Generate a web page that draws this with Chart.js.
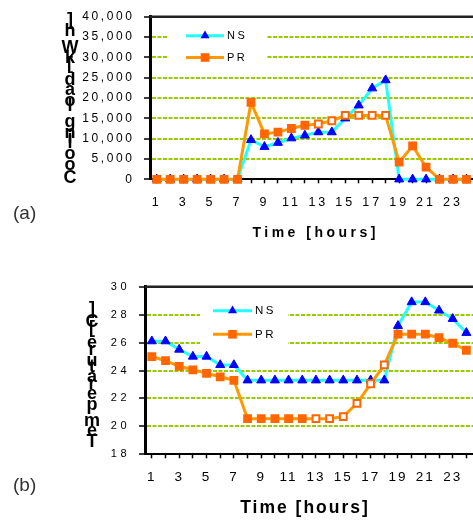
<!DOCTYPE html>
<html lang="en">
<head>
<meta charset="UTF-8">
<title>Cooling load and temperature</title>
<script src="https://cdn.jsdelivr.net/npm/chart.js"></script>
<style>
  body { margin: 0; background: #fff; width: 473px; height: 520px; overflow: hidden; position: relative;
         font-family: Arial, "Liberation Sans", sans-serif; }
  canvas { position: absolute; left: 0; }
  #chartA { top: 0; }
  #chartB { top: 260px; }
  .tag { position: absolute; font-size: 19px; line-height: 19px; color: #333; }
</style>
</head>
<body>
<canvas id="chartA" width="480" height="250"></canvas>
<canvas id="chartB" width="480" height="260"></canvas>
<div class="tag" style="left:13px; top:203px;">(a)</div>
<div class="tag" style="left:13px; top:475px;">(b)</div>

<script>
const hours = ['1','2','3','4','5','6','7','8','9','10','11','12','13','14','15','16','17','18','19','20','21','22','23','24'];

// (a) cooling load [kWh]
const coolNS = [0,0,0,0,0,0,0,9700,8000,9000,10100,10800,11600,11600,15000,18200,22400,24400,0,0,0,0,0,0];
const coolPR = [0,0,0,0,0,0,0,18900,11200,11600,12500,13300,13600,14400,15700,15700,15700,15700,4200,8200,3000,0,0,0];
const coolTicks = [0, 40000, 5000];   // min, max, step

// (b) temperature [C]
const tempNS = [26.1,26.1,25.5,25.0,25.0,24.4,24.4,23.3,23.3,23.3,23.3,23.3,23.3,23.3,23.3,23.3,23.3,23.3,27.2,28.9,28.9,28.3,27.7,26.7];
const tempPR = [25.0,24.7,24.3,24.05,23.8,23.55,23.3,20.55,20.55,20.55,20.55,20.55,20.55,20.55,20.7,21.65,23.05,24.4,26.6,26.6,26.6,26.35,25.95,25.45];
const tempTicks = [18, 30, 2];

const FONT = 'Arial, "Liberation Sans", sans-serif';
const CYAN = '#22ffff', BLUE = '#0000ff', ORANGE = '#ff9900', DARKORANGE = '#ff6600', GRID = '#99cc00';

function makeDatasets(ns, pr) {
  return [
    {
      label: 'NS', data: ns, order: 2, clip: false,
      borderColor: CYAN, borderWidth: 3, tension: 0,
      pointStyle: 'triangle', pointRadius: 5.2, pointBorderWidth: 1,
      pointBackgroundColor: BLUE, pointBorderColor: BLUE
    },
    {
      label: 'PR', data: pr, order: 1, clip: false,
      borderColor: ORANGE, borderWidth: 3, tension: 0,
      pointStyle: 'rect', pointRadius: 4.8, pointBorderWidth: 2,
      // markers for hours 13-18 are hollow in the original
      pointBackgroundColor: c => (c.dataIndex >= 12 && c.dataIndex <= 17) ? '#ffffff' : DARKORANGE,
      pointBorderColor: DARKORANGE
    }
  ];
}

function decor(o) {
  return {
    id: 'decor',
    beforeDraw(chart) { chart.ctx.letterSpacing = o.yLs + 'px'; },
    beforeDatasetsDraw(chart) {
      const ctx = chart.ctx, a = chart.chartArea;
      ctx.save();
      ctx.letterSpacing = '0px';
      // top frame line
      ctx.strokeStyle = '#222';
      ctx.lineWidth = 2.5;
      ctx.beginPath();
      ctx.moveTo(a.left, a.top);
      ctx.lineTo(a.right, a.top);
      ctx.stroke();
      // legend
      ctx.fillStyle = '#fff';
      ctx.fillRect(o.box[0], o.box[1], o.box[2], o.box[3]);
      chart.data.datasets.forEach((ds, i) => {
        const y = o.leg.y[i];
        ctx.strokeStyle = ds.borderColor;
        ctx.lineWidth = 3;
        ctx.beginPath();
        ctx.moveTo(o.leg.x0, y);
        ctx.lineTo(o.leg.x1, y);
        ctx.stroke();
        const mx = (o.leg.x0 + o.leg.x1) / 2;
        if (ds.pointStyle === 'triangle') {
          ctx.fillStyle = BLUE;
          ctx.beginPath();
          ctx.moveTo(mx, y - 5.2);
          ctx.lineTo(mx + 4.5, y + 2.6);
          ctx.lineTo(mx - 4.5, y + 2.6);
          ctx.closePath();
          ctx.fill();
        } else {
          ctx.fillStyle = DARKORANGE;
          ctx.fillRect(mx - 4.3, y - 4.3, 8.6, 8.6);
        }
        ctx.fillStyle = '#000';
        ctx.font = o.leg.font + 'px ' + FONT;
        ctx.letterSpacing = o.leg.ls + 'px';
        ctx.textAlign = 'left';
        ctx.textBaseline = 'middle';
        ctx.fillText(ds.label, o.leg.tx, y + 0.5);
        ctx.letterSpacing = '0px';
      });
      ctx.restore();
    },
    afterDatasetsDraw(chart) { chart.ctx.letterSpacing = o.xLs + 'px'; },
    afterDraw(chart) {
      const ctx = chart.ctx;
      ctx.save();
      ctx.fillStyle = '#000';
      // x title
      ctx.font = 'bold ' + o.xt.size + 'px ' + FONT;
      ctx.letterSpacing = o.xt.ls + 'px';
      ctx.textAlign = 'center';
      ctx.textBaseline = 'alphabetic';
      ctx.fillText(o.xt.text, o.xt.x + o.xt.ls / 2, o.xt.y);
      // y title: upright glyphs stacked bottom to top
      ctx.letterSpacing = '0px';
      ctx.font = 'bold ' + o.yt.size + 'px ' + FONT;
      let y = o.yt.y;
      for (const ch of o.yt.text) {
        ctx.fillText(ch, o.yt.x, y);
        y -= ctx.measureText(ch).width;
      }
      ctx.restore();
      ctx.letterSpacing = '0px';
    }
  };
}

function makeChart(id, ns, pr, yt, area, opt) {
  const canvas = document.getElementById(id);
  const W = canvas.width, H = canvas.height;
  return new Chart(canvas, {
    type: 'line',
    data: { labels: hours, datasets: makeDatasets(ns, pr) },
    options: {
      responsive: false,
      animation: false,
      events: [],
      layout: { padding: { left: 0, top: area.top, right: W - area.right, bottom: 0 } },
      plugins: { legend: { display: false }, tooltip: { enabled: false } },
      scales: {
        x: {
          type: 'category',
          offset: true,
          afterFit: s => { s.height = H - area.bottom; },
          grid: { drawOnChartArea: false, offset: false, tickLength: 4, tickColor: '#000', tickWidth: 1.5 },
          border: { color: '#000', width: 2 },
          ticks: {
            z: 1,
            autoSkip: false, maxRotation: 0,
            padding: opt.xPad,
            color: '#000',
            font: { family: FONT, size: opt.xFont },
            callback: (v, i) => i % 2 === 0 ? hours[i] : ''
          }
        },
        y: {
          min: yt[0], max: yt[1],
          afterFit: s => { s.width = area.left; },
          grid: {
            color: c => (c.tick && (c.tick.value === yt[0] || c.tick.value === yt[1])) ? 'rgba(0,0,0,0)' : GRID,
            lineWidth: 2, tickLength: 6, tickColor: '#000', tickWidth: 1.5
          },
          border: { color: '#000', width: 3, dash: [4, 1.5] },
          ticks: {
            stepSize: yt[2],
            padding: opt.yPad,
            color: '#000',
            font: { family: FONT, size: opt.yFont },
            callback: v => v.toLocaleString('en-US')
          }
        }
      }
    },
    plugins: [decor(opt.decor)]
  });
}

makeChart('chartA', coolNS, coolPR, coolTicks,
  { left: 150, right: 478, top: 15, bottom: 179.3 },
  {
    xFont: 12.5, xPad: 11.5, yFont: 12, yPad: 9.5,
    decor: {
      yLs: 2.6, xLs: 3,
      box: [167, 25, 99, 43],
      leg: { x0: 186, x1: 224, tx: 227, y: [35.7, 57.5], font: 11, ls: 2.5 },
      xt: { text: 'Time [hours]', size: 14, ls: 3.5, x: 314, y: 237 },
      yt: { text: 'Cooling load [kWh]', size: 18, x: 70, y: 183 }
    }
  });

makeChart('chartB', tempNS, tempPR, tempTicks,
  { left: 145, right: 476, top: 26.7, bottom: 194.3 },
  {
    xFont: 13.5, xPad: 11, yFont: 11, yPad: 9,
    decor: {
      yLs: 3.5, xLs: 2,
      box: [200, 40, 88, 55],
      leg: { x0: 213, x1: 252, tx: 255, y: [50.7, 74.3], font: 11.5, ls: 2.5 },
      xt: { text: 'Time [hours]', size: 17.5, ls: 2, x: 304, y: 252.7 },
      yt: { text: 'Temperature [C]', size: 18, x: 92, y: 186.7 }
    }
  });
</script>
</body>
</html>
